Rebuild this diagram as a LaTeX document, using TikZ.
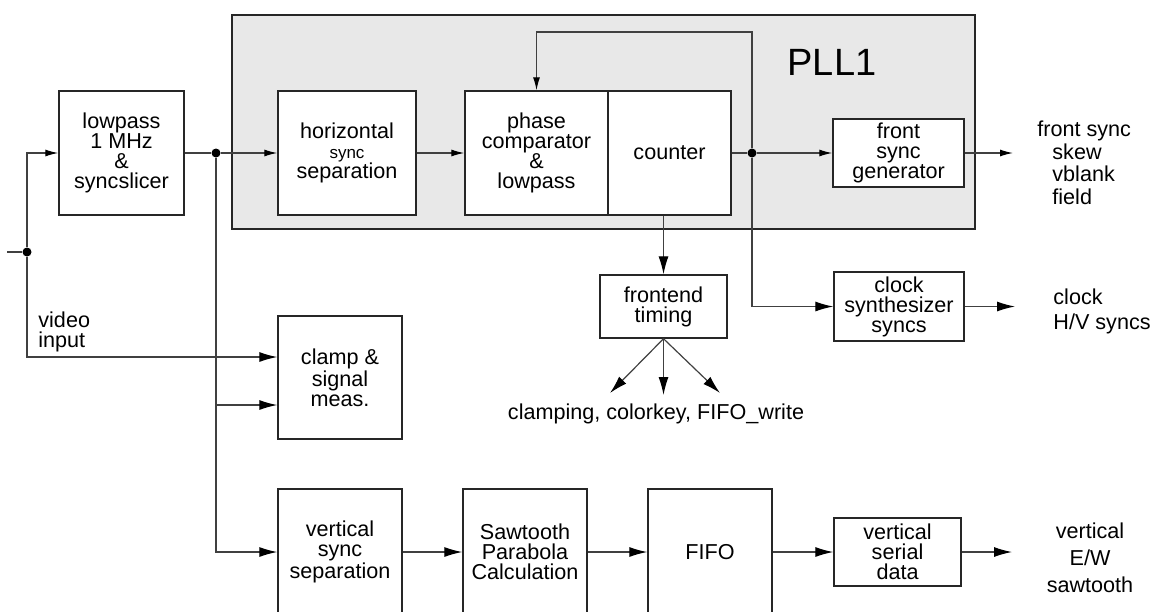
\documentclass[tikz,border=0pt]{standalone}
\usepackage{fontspec}
\setsansfont{Liberation Sans}
\usetikzlibrary{positioning,arrows.meta}

\begin{document}
\begin{tikzpicture}[
  x=0.5pt, y=-0.5pt,
  font=\sffamily\fontsize{10.8}{10}\selectfont,
  block/.style={draw=black!85, line width=0.7pt, fill=white, align=center, inner sep=0pt},
  wire/.style={draw=black!75, line width=0.6pt},
  arr/.style={wire, -{Latex[length=6.5pt,width=3.5pt,color=black]}},
  bigarr/.style={wire, -{Latex[length=9pt,width=5pt,color=black]}},
  dot/.style={circle, fill=black, inner sep=0pt, minimum size=4.5pt},
  outlabel/.style={align=left, inner sep=0pt, anchor=west}
]
\useasboundingbox (0,0) rectangle (1159,611);
\clip (0,0) rectangle (1159,611);

\node[draw=black!85, line width=0.7pt, fill=black!9, minimum width=371.5pt, minimum height=107pt, inner sep=0pt] (pll) at (603.5,122) {};
\node[font=\sffamily\fontsize{19}{19}\selectfont] (plltitle) at (832,62) {PLL1};

\node[block, minimum width=62.5pt, minimum height=62pt] (lp) at (121.5,153) {lowpass\\1 MHz\\\&\\syncslicer};
\node[block, minimum width=69pt, minimum height=62pt] (hsync) at (347,153) {horizontal\\{\fontsize{8.5}{8}\selectfont sync}\\separation};
\node[block, minimum width=71.5pt, minimum height=62pt] (phase) at (536.5,153) {phase\\comparator\\\&\\lowpass};
\node[block, minimum width=61.5pt, minimum height=62pt] (counter) at (669.5,153) {counter};
\node[block, minimum width=65.5pt, minimum height=34pt] (fsg) at (898.5,153) {front\\sync\\generator};
\node[block, minimum width=63.5pt, minimum height=31.5pt] (fe) at (663.5,306.5) {frontend\\timing};
\node[block, minimum width=65pt, minimum height=34.5pt] (clk) at (899,306.5) {clock\\synthesizer\\syncs};
\node[block, minimum width=62pt, minimum height=61.5pt] (clamp) at (340,377.5) {clamp \&\\signal\\meas.};
\node[block, minimum width=62pt, minimum height=63pt] (vsync) at (340,552) {vertical\\sync\\separation};
\node[block, minimum width=62pt, minimum height=63pt] (saw) at (525,552) {Sawtooth\\Parabola\\Calculation};
\node[block, minimum width=62pt, minimum height=63pt] (fifo) at (710,552) {FIFO};
\node[block, minimum width=63.5pt, minimum height=34pt] (vsd) at (897.5,552) {vertical\\serial\\data};

\node[outlabel, font=\sffamily\fontsize{10.8}{11.25}\selectfont] (fsout) at (1037,163) {front sync\\\hspace*{7.5pt}skew\\\hspace*{7.5pt}vblank\\\hspace*{7.5pt}field};
\node[outlabel, font=\sffamily\fontsize{10.8}{12.5}\selectfont] (clkout) at (1053,311) {clock\\H/V syncs};
\node[align=center, inner sep=0pt, font=\sffamily\fontsize{10.8}{13.5}\selectfont] (vout) at (1090,558) {vertical\\E/W\\sawtooth};
\node[outlabel] (vidin) at (38,332) {video\\input};
\node[inner sep=0pt] (feout) at (656,414) {clamping, colorkey, FIFO\_write};

\node[dot] (j0) at (27,252) {};
\node[dot] (j1) at (216,153) {};
\node[dot] (j2) at (752,153) {};
\coordinate (vin) at (7,252);
\coordinate (vrow) at (27,357);
\coordinate (crow) at (216,405);
\coordinate (fbtop) at (752,32);
\coordinate (fsend) at (1013,153);
\coordinate (clkend) at (1015,306.5);
\coordinate (vsdend) at (1012,552);
\coordinate (fan1) at (610,393);
\coordinate (fan2) at (663.5,395);
\coordinate (fan3) at (720,393);

\draw[wire] (vin) -- (j0);
\draw[arr] (j0) |- (lp);
\draw[bigarr] (j0) -- (vrow) -- (vrow -| clamp.west);
\draw[wire] (lp) -- (j1);
\draw[arr] (j1) -- (hsync);
\draw[bigarr] (j1) |- (vsync);
\draw[bigarr] (crow) -- (crow -| clamp.west);
\draw[arr] (hsync) -- (phase);
\draw[wire] (counter) -- (j2);
\draw[arr] (j2) -- (fsg);
\draw[arr] (j2) -- (fbtop) -| (phase);
\draw[bigarr] (j2) |- (clk);
\draw[arr] (fsg) -- (fsend);
\draw[bigarr] (fe.north |- counter.south) -- (fe);
\draw[bigarr] (clk) -- (clkend);
\foreach \f in {fan1,fan2,fan3}
  \draw[bigarr] (fe.south) -- (\f);
\draw[bigarr] (vsync) -- (saw);
\draw[bigarr] (saw) -- (fifo);
\draw[bigarr] (fifo) -- (vsd);
\draw[bigarr] (vsd) -- (vsdend);
\end{tikzpicture}
\end{document}
